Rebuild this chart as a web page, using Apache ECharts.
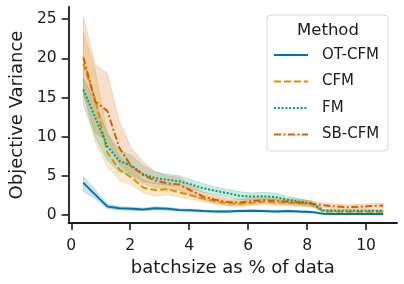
<!DOCTYPE html>
<html>
<head>
<meta charset="utf-8">
<script src="https://cdn.jsdelivr.net/npm/echarts@6/dist/echarts.min.js"></script>
<style>
  html, body { margin: 0; padding: 0; background: #fff; }
  #chart { width: 404px; height: 284px; }
</style>
</head>
<body>
<div id="chart"></div>
<script>
// batchsize as % of data
const batchPct = [0.41, 0.81, 1.22, 1.63, 2.04, 2.44, 2.85, 3.26, 3.66, 4.07, 4.48, 4.88, 5.29,
  5.70, 6.11, 6.51, 6.92, 7.33, 7.73, 8.14, 8.55, 8.95, 9.36, 9.77, 10.18, 10.58]

const methods = ['OT-CFM', 'CFM', 'FM', 'SB-CFM']

// mean objective variance per method
const otcfmMean = [4.1, 2.6, 1.1, 0.85, 0.8, 0.7, 0.85, 0.8, 0.65, 0.6, 0.5, 0.45, 0.45,
  0.5, 0.55, 0.5, 0.45, 0.5, 0.45, 0.4, 0.15, 0.12, 0.12, 0.12, 0.12, 0.12]
const cfmMean = [19.3, 14.8, 8.0, 5.8, 4.8, 3.5, 3.2, 3.3, 2.9, 2.5, 2.1, 1.75, 1.5,
  1.45, 1.55, 1.7, 1.6, 1.55, 1.5, 1.45, 0.45, 0.45, 0.42, 0.42, 0.42, 0.42]
const fmMean = [16.0, 12.5, 8.8, 6.9, 6.3, 5.2, 4.7, 4.5, 4.3, 3.9, 3.4, 3.1, 2.8,
  2.45, 2.35, 2.4, 2.3, 1.95, 1.7, 1.5, 0.6, 0.55, 0.55, 0.55, 0.55, 0.55]
const sbcfmMean = [20.1, 14.5, 13.3, 8.6, 6.2, 5.1, 4.4, 4.05, 3.9, 3.1, 2.35, 1.95, 1.65,
  1.6, 1.75, 1.9, 1.8, 1.7, 1.6, 1.45, 1.25, 1.1, 1.0, 1.05, 1.15, 1.2]

// confidence band, lower / upper
const otcfmLow = [3.0, 2.1, 0.8, 0.65, 0.6, 0.55, 0.65, 0.6, 0.5, 0.45, 0.38, 0.33, 0.33,
  0.38, 0.42, 0.38, 0.33, 0.38, 0.33, 0.3, 0.07, 0.05, 0.05, 0.05, 0.05, 0.05]
const otcfmHigh = [4.9, 3.2, 1.4, 1.05, 1.0, 0.88, 1.05, 1.0, 0.8, 0.75, 0.62, 0.57, 0.57,
  0.62, 0.68, 0.62, 0.57, 0.62, 0.57, 0.5, 0.24, 0.2, 0.2, 0.2, 0.2, 0.2]
const cfmLow = [15.5, 9.4, 6.2, 4.4, 3.8, 2.8, 2.4, 2.6, 2.3, 2.0, 1.7, 1.4, 1.2,
  1.1, 1.2, 1.3, 1.2, 1.2, 1.1, 1.1, 0.3, 0.3, 0.28, 0.28, 0.28, 0.28]
const cfmHigh = [23.4, 18.5, 10.5, 7.5, 6.0, 4.4, 4.0, 4.0, 3.5, 3.1, 2.6, 2.2, 1.9,
  1.8, 1.9, 2.1, 2.0, 1.9, 1.9, 1.8, 0.65, 0.6, 0.58, 0.58, 0.58, 0.58]
const fmLow = [14.0, 10.0, 7.0, 5.5, 5.2, 4.3, 4.0, 3.8, 3.7, 3.3, 2.9, 2.6, 2.3,
  2.0, 1.9, 2.0, 1.9, 1.6, 1.35, 1.2, 0.45, 0.4, 0.4, 0.4, 0.4, 0.4]
const fmHigh = [17.5, 14.5, 10.5, 8.3, 7.6, 6.3, 5.5, 5.2, 5.0, 4.5, 4.0, 3.6, 3.3,
  3.0, 2.8, 2.9, 2.8, 2.4, 2.1, 1.8, 0.75, 0.7, 0.7, 0.7, 0.7, 0.7]
const sbcfmLow = [15.5, 10.5, 9.5, 6.5, 5.0, 4.0, 3.5, 3.3, 3.2, 2.5, 1.9, 1.5, 1.2,
  1.2, 1.3, 1.5, 1.4, 1.3, 1.2, 1.1, 0.95, 0.8, 0.75, 0.8, 0.85, 0.9]
const sbcfmHigh = [25.3, 19.2, 18.1, 12.0, 8.5, 6.8, 5.5, 5.0, 4.8, 3.8, 2.9, 2.5, 2.1,
  2.0, 2.2, 2.3, 2.2, 2.1, 2.0, 1.8, 1.55, 1.4, 1.3, 1.35, 1.45, 1.5]

const xTicks = [0, 2, 4, 6, 8, 10]
const yTicks = [0, 5, 10, 15, 20, 25]

const colors = ['#0173B2', '#DE8F05', '#029E73', '#D55E00']
const dashes = ['solid', [7, 3], [2, 1.8], [7, 2.5, 2, 2.5]]
const means = [otcfmMean, cfmMean, fmMean, sbcfmMean]
const lows = [otcfmLow, cfmLow, fmLow, sbcfmLow]
const highs = [otcfmHigh, cfmHigh, fmHigh, sbcfmHigh]

const font = 'DejaVu Sans'
const ink = '#1a1a1a'

function hexA(hex, a) {
  const n = parseInt(hex.slice(1), 16)
  return `rgba(${n >> 16}, ${(n >> 8) & 255}, ${n & 255}, ${a})`
}

// shaded error band, one polygon through the axis scales
function bandSeries(i) {
  const lo = lows[i], hi = highs[i]
  return {
    type: 'custom',
    name: methods[i] + ' band',
    z: 1,
    silent: true,
    data: batchPct.map((x, k) => [x, lo[k], hi[k]]),
    encode: { x: 0, y: [1, 2] },
    renderItem(params, api) {
      if (params.dataIndex !== 0) return null
      const pts = []
      batchPct.forEach((x, k) => pts.push(api.coord([x, hi[k]])))
      for (let k = batchPct.length - 1; k >= 0; k--) pts.push(api.coord([batchPct[k], lo[k]]))
      return {
        type: 'polygon',
        shape: { points: pts },
        style: { fill: hexA(colors[i], 0.2), stroke: hexA(colors[i], 0.2), lineWidth: 1 }
      }
    }
  }
}

function lineSeries(i) {
  return {
    type: 'line',
    name: methods[i],
    z: 3,
    symbol: 'none',
    animation: false,
    color: colors[i],
    lineStyle: { color: colors[i], width: 2, type: dashes[i] },
    data: batchPct.map((x, k) => [x, means[i][k]])
  }
}

const chart = echarts.init(document.getElementById('chart'))
const option = {
  animation: false,
  textStyle: { fontFamily: font },
  grid: { left: 63, top: 7, right: 7, bottom: 61 },
  xAxis: {
    type: 'value',
    min: -0.09,
    max: 11.05,
    name: 'batchsize as % of data',
    nameLocation: 'middle',
    nameGap: 34,
    nameTextStyle: { fontSize: 18, color: ink, fontFamily: font },
    axisLine: { onZero: false, lineStyle: { color: ink, width: 1.8 } },
    axisTick: { show: true, customValues: xTicks, length: 7, lineStyle: { color: ink, width: 1.6 } },
    axisLabel: { customValues: xTicks, margin: 15, fontSize: 15.5, color: ink, fontFamily: font },
    splitLine: { show: false }
  },
  yAxis: {
    type: 'value',
    min: -1.02,
    max: 26.56,
    name: 'Objective Variance',
    nameLocation: 'middle',
    nameGap: 41,
    nameTextStyle: { fontSize: 18, color: ink, fontFamily: font },
    axisLine: { show: true, onZero: false, lineStyle: { color: ink, width: 1.8 } },
    axisTick: { show: true, customValues: yTicks, length: 7, lineStyle: { color: ink, width: 1.6 } },
    axisLabel: { customValues: yTicks, margin: 12, fontSize: 15.5, color: ink, fontFamily: font },
    splitLine: { show: false }
  },
  legend: {
    orient: 'vertical',
    left: 273,
    top: 46,
    padding: 0,
    itemWidth: 34,
    itemHeight: 10,
    itemGap: 8.5,
    data: methods,
    itemStyle: { color: 'rgba(0,0,0,0)', borderWidth: 0, opacity: 0 },
    textStyle: { fontSize: 15, color: ink, fontFamily: font, lineHeight: 18, padding: [0, 0, 0, 9] }
  },
  graphic: [
    {
      type: 'rect',
      z: 3,
      shape: { x: 267, y: 15, width: 121, height: 136, r: 4 },
      style: { fill: 'rgba(255,255,255,0.8)', stroke: '#d6d6d6', lineWidth: 1 }
    },
    {
      type: 'text',
      z: 5,
      x: 328,
      y: 31,
      style: { text: 'Method', font: '16.5px "DejaVu Sans"', fill: ink, align: 'center', verticalAlign: 'middle' }
    }
  ],
  series: [0, 1, 2, 3].map(bandSeries).concat([0, 1, 2, 3].map(lineSeries))
}
chart.setOption(option)
</script>
</body>
</html>
